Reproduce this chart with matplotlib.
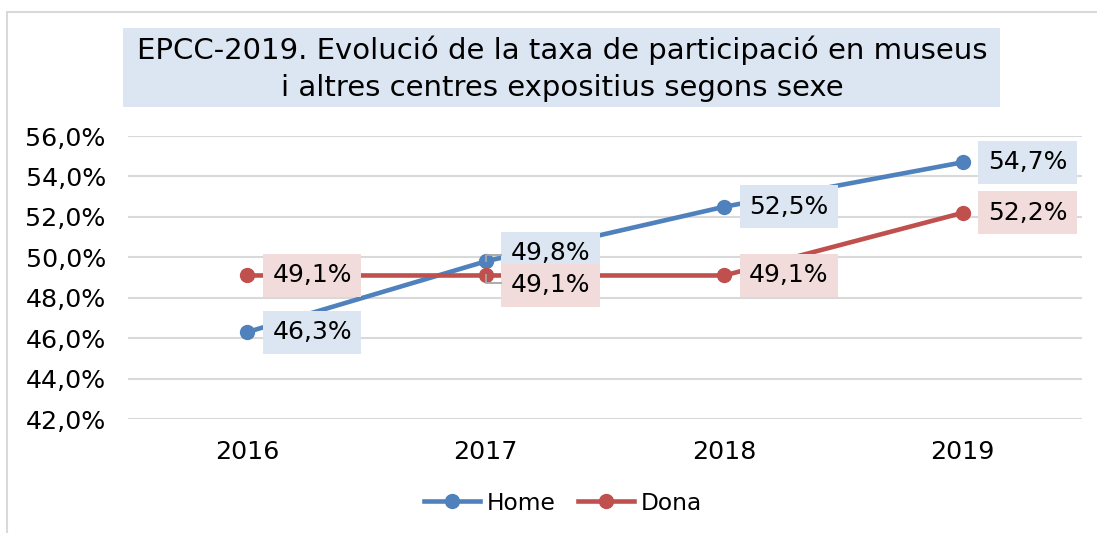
import matplotlib
matplotlib.use("Agg")
import matplotlib.pyplot as plt
from matplotlib.patches import Rectangle
from matplotlib.lines import Line2D
from matplotlib.transforms import IdentityTransform

years = ["2016", "2017", "2018", "2019"]
home = [46.3, 49.8, 52.5, 54.7]
dona = [49.1, 49.1, 49.1, 52.2]
yticks = [42, 44, 46, 48, 50, 52, 54, 56]
title = "EPCC-2019. Evolució de la taxa de participació en museus\ni altres centres expositius segons sexe"

W, H = 1097, 533
fig = plt.figure(figsize=(W / 100, H / 100), dpi=100)
plt.rcParams['font.family'] = ['DejaVu Sans']

def fx(px):
    return px / W

def fy(py):
    return 1 - py / H

# outer chart border
fig.patches.append(Rectangle((fx(7), fy(600)), fx(1200), (600 - 12) / H,
                             transform=fig.transFigure, fill=False,
                             edgecolor="#d9d9d9", linewidth=1.5))

# title box
fig.patches.append(Rectangle((fx(123), fy(107)), fx(1000 - 123), (107 - 28) / H,
                             transform=fig.transFigure, facecolor="#dce6f2",
                             edgecolor="none"))
fig.text(fx(562), fy(69), title, ha="center", va="center", fontsize=21,
         linespacing=1.42, color="#000000")

ax = fig.add_axes([fx(128), fy(419), fx(1082 - 128), (419 - 136) / H])
x = [0.5, 1.5, 2.5, 3.5]
blue = "#4f81bd"
red = "#c0504d"
ax.plot(x, home, color=blue, lw=3.3, marker="o", ms=10, zorder=3,
        solid_capstyle="round", label="Home")
ax.plot(x, dona, color=red, lw=3.3, marker="o", ms=10, zorder=3,
        solid_capstyle="round", label="Dona")

ax.set_xlim(0, 4)
ax.set_ylim(42, 56)
ax.set_yticks(yticks)
ax.set_yticklabels([f"{v:.1f}%".replace(".", ",") for v in yticks])
ax.set_xticks(x)
ax.set_xticklabels(years)
ax.tick_params(axis="both", length=0, labelsize=18.2, colors="#000000")
ax.tick_params(axis="y", pad=16)
ax.tick_params(axis="x", pad=15)
ax.grid(axis="y", color="#d9d9d9", lw=1.5)
ax.set_axisbelow(True)
for s in ax.spines.values():
    s.set_visible(False)

def fmt(v):
    return f"{v:.1f}%".replace(".", ",")

# leader lines for the 2017 labels (display pixel offsets from the point)
def leader(xv, yv, dy):
    px, py = ax.transData.transform((xv, yv))
    ln = Line2D([px, px, px + 15], [py, py + dy, py + dy], color="#a6a6a6",
                lw=1.3, transform=IdentityTransform(), zorder=2.5)
    fig.add_artist(ln)

leader(x[1], home[1], 6)
leader(x[1], dona[1], -8)

offsets_home = [0, 8, 0, 0]
offsets_dona = [0, -10, 0, 0]
for i in range(4):
    ax.annotate(fmt(home[i]), (x[i], home[i]), xytext=(25, offsets_home[i]),
                textcoords="offset pixels", ha="left", va="center", fontsize=18,
                bbox=dict(boxstyle="square,pad=0.38", fc="#dce6f2", ec="none"),
                zorder=5)
for i in range(4):
    ax.annotate(fmt(dona[i]), (x[i], dona[i]), xytext=(25, offsets_dona[i]),
                textcoords="offset pixels", ha="left", va="center", fontsize=18,
                bbox=dict(boxstyle="square,pad=0.38", fc="#f2dcdb", ec="none"),
                zorder=6)

handles = [Line2D([], [], color=blue, lw=3.3, marker="o", ms=10),
           Line2D([], [], color=red, lw=3.3, marker="o", ms=10)]
fig.legend(handles, ["Home", "Dona"], loc="center", bbox_to_anchor=(fx(563), fy(503)),
           ncol=2, frameon=False, fontsize=16.8, handlelength=2.4, handletextpad=0.25,
           columnspacing=1.0)

fig.savefig("out.png", dpi=100)
